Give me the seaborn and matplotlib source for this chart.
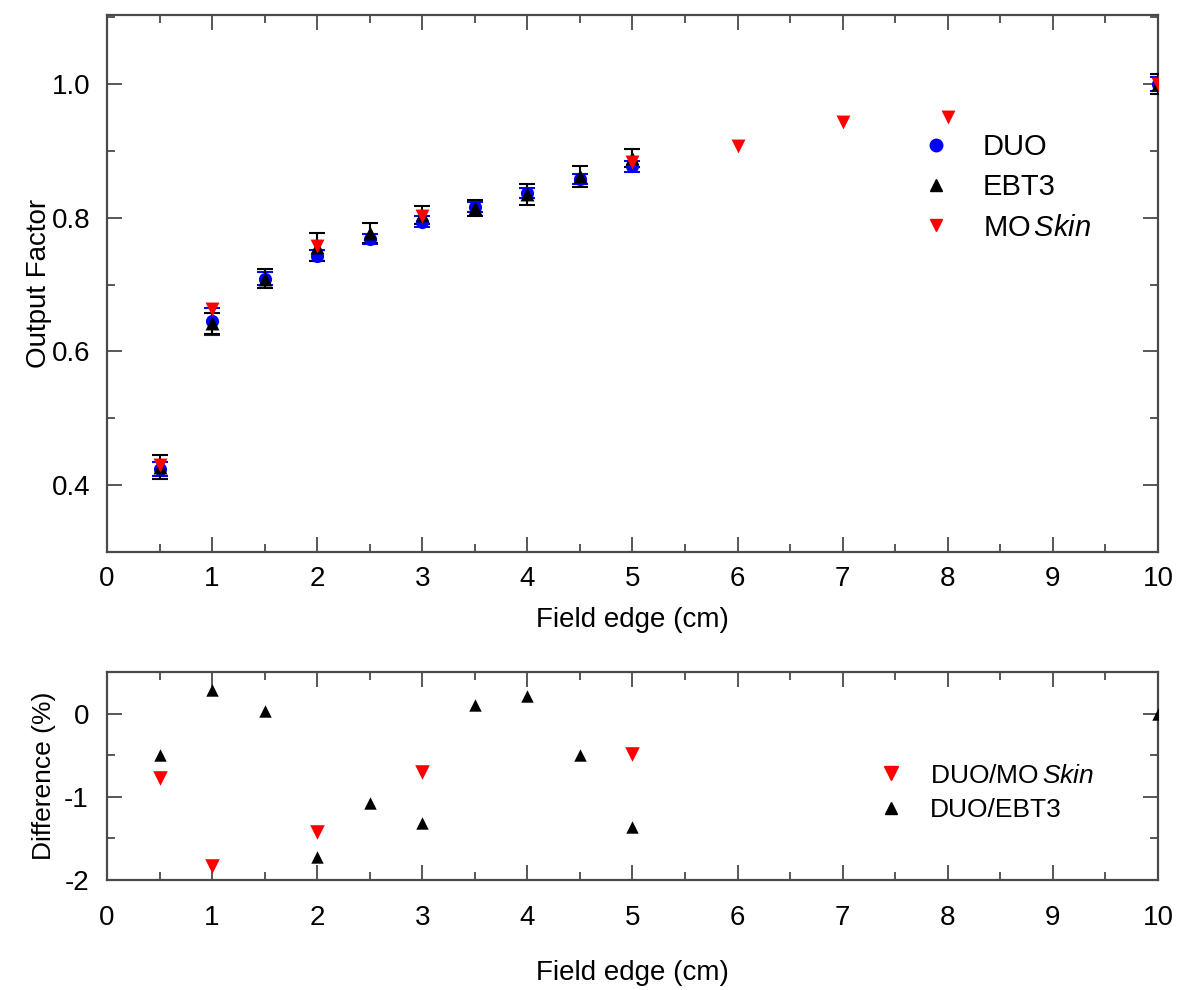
import matplotlib
matplotlib.use("Agg")
import matplotlib.pyplot as plt
from matplotlib.lines import Line2D
from matplotlib.ticker import MultipleLocator, FormatStrFormatter
import seaborn as sns
import pandas as pd

# ---------------- data ----------------
field_edge = [0.5, 1, 1.5, 2, 2.5, 3, 3.5, 4, 4.5, 5, 10]
duo = [0.424, 0.645, 0.709, 0.743, 0.768, 0.794, 0.816, 0.837, 0.858, 0.877, 1.000]
duo_err = [0.010, 0.020, 0.010, 0.008, 0.008, 0.008, 0.008, 0.008, 0.008, 0.008, 0.010]
ebt3 = [0.427, 0.642, 0.709, 0.756, 0.777, 0.804, 0.815, 0.835, 0.862, 0.889, 1.000]
ebt3_err = [0.018, 0.016, 0.014, 0.021, 0.015, 0.013, 0.012, 0.016, 0.016, 0.013, 0.015]

moskin_edge = [0.5, 1, 2, 3, 5, 6, 7, 8, 10]
moskin = [0.430, 0.663, 0.757, 0.803, 0.883, 0.907, 0.943, 0.951, 1.000]

diff_moskin_edge = [0.5, 1, 2, 3, 5]
diff_moskin = [-0.77, -1.83, -1.42, -0.70, -0.49]
diff_ebt3_edge = [0.5, 1, 1.5, 2, 2.5, 3, 3.5, 4, 4.5, 5, 10]
diff_ebt3 = [-0.50, 0.28, 0.03, -1.72, -1.07, -1.32, 0.10, 0.21, -0.50, -1.36, 0.00]

x_ticks = list(range(0, 11))

# ---------------- style ----------------
sns.set_theme(style="ticks")
plt.rcParams["font.family"] = ["Liberation Sans", "DejaVu Sans"]
plt.rcParams["mathtext.fontset"] = "custom"
plt.rcParams["mathtext.rm"] = "Liberation Sans"
plt.rcParams["mathtext.it"] = "Liberation Sans:italic"
plt.rcParams["axes.unicode_minus"] = False
plt.rcParams["text.color"] = "black"
plt.rcParams["axes.labelcolor"] = "black"
plt.rcParams["xtick.labelcolor"] = "black"
plt.rcParams["ytick.labelcolor"] = "black"

spine_col = "#4a4a4a"

fig = plt.figure(figsize=(11.97, 9.90), dpi=100)
fig.patch.set_facecolor("white")
ax1 = fig.add_axes([0.0894, 0.4424, 0.878, 0.5424])
ax2 = fig.add_axes([0.0894, 0.1111, 0.878, 0.2101])

df_top = pd.DataFrame({"x": field_edge, "duo": duo, "ebt3": ebt3})
df_mo = pd.DataFrame({"x": moskin_edge, "mo": moskin})

# error bars
ax1.errorbar(field_edge, duo, yerr=duo_err, fmt="none", ecolor="blue",
             elinewidth=1.5, capsize=6, capthick=1.5, zorder=2)
ax1.errorbar(field_edge, ebt3, yerr=ebt3_err, fmt="none", ecolor="black",
             elinewidth=1.5, capsize=6, capthick=1.5, zorder=3)

sns.scatterplot(data=df_top, x="x", y="duo", ax=ax1, marker="o", color="blue",
                s=90, linewidth=0, zorder=4, legend=False)
sns.scatterplot(data=df_top, x="x", y="ebt3", ax=ax1, marker="^", color="black",
                s=100, linewidth=0, zorder=5, legend=False)
sns.scatterplot(data=df_mo, x="x", y="mo", ax=ax1, marker="v", color="red",
                s=100, linewidth=0, zorder=6, legend=False)

ax1.set_xlim(0, 10)
ax1.set_ylim(0.30, 1.103)
ax1.set_yticks([0.4, 0.6, 0.8, 1.0])
ax1.yaxis.set_minor_locator(MultipleLocator(0.1))
ax1.yaxis.set_major_formatter(FormatStrFormatter("%.1f"))
ax1.set_xlabel("Field edge (cm)", fontsize=20, labelpad=11)
ax1.set_ylabel("Output Factor", fontsize=20, labelpad=0)

# bottom panel
df_d1 = pd.DataFrame({"x": diff_moskin_edge, "d": diff_moskin})
df_d2 = pd.DataFrame({"x": diff_ebt3_edge, "d": diff_ebt3})
sns.scatterplot(data=df_d1, x="x", y="d", ax=ax2, marker="v", color="red",
                s=110, linewidth=0, zorder=4, legend=False)
sns.scatterplot(data=df_d2, x="x", y="d", ax=ax2, marker="^", color="black",
                s=80, linewidth=0, zorder=5, legend=False)
ax2.set_xlim(0, 10)
ax2.set_ylim(-2.0, 0.5)
ax2.set_yticks([-2, -1, 0])
ax2.yaxis.set_minor_locator(MultipleLocator(0.5))
ax2.set_xlabel("Field edge (cm)", fontsize=20, labelpad=21)
ax2.set_ylabel("Difference (%)", fontsize=19, labelpad=6)

for ax in (ax1, ax2):
    ax.set_facecolor("white")
    ax.set_xticks(x_ticks)
    ax.xaxis.set_minor_locator(MultipleLocator(0.5))
    for s in ax.spines.values():
        s.set_visible(True)
        s.set_color(spine_col)
        s.set_linewidth(1.6)
    ax.tick_params(which="both", direction="in", top=True, right=True,
                   color=spine_col, width=1.3, labelsize=20)
    ax.tick_params(which="major", length=11)
    ax.tick_params(which="minor", length=6)
ax1.tick_params(axis="x", which="major", pad=10)
ax1.tick_params(axis="y", which="major", pad=12)
ax2.tick_params(axis="x", which="major", pad=18)
ax2.tick_params(axis="y", which="major", pad=13)

# legends
h_top = [
    Line2D([], [], marker="o", color="blue", linestyle="none", markersize=9),
    Line2D([], [], marker="^", color="black", linestyle="none", markersize=9),
    Line2D([], [], marker="v", color="red", linestyle="none", markersize=9),
]
ax1.legend(h_top, ["DUO", "EBT3", r"MO$\,\mathit{Skin}$"], loc="upper left",
           bbox_to_anchor=(0.775, 0.78), frameon=False, fontsize=21,
           handlelength=1.0, handletextpad=1.1, borderpad=0,
           labelspacing=0.42, borderaxespad=0)

h_bot = [
    Line2D([], [], marker="v", color="red", linestyle="none", markersize=10),
    Line2D([], [], marker="^", color="black", linestyle="none", markersize=9),
]
ax2.legend(h_bot, [r"DUO/MO$\,\mathit{Skin}$", "DUO/EBT3"], loc="upper left",
           bbox_to_anchor=(0.733, 0.56), frameon=False, fontsize=19,
           handlelength=1.0, handletextpad=1.0, borderpad=0,
           labelspacing=0.4, borderaxespad=0)

fig.savefig("out.png", dpi=100, facecolor="white")
